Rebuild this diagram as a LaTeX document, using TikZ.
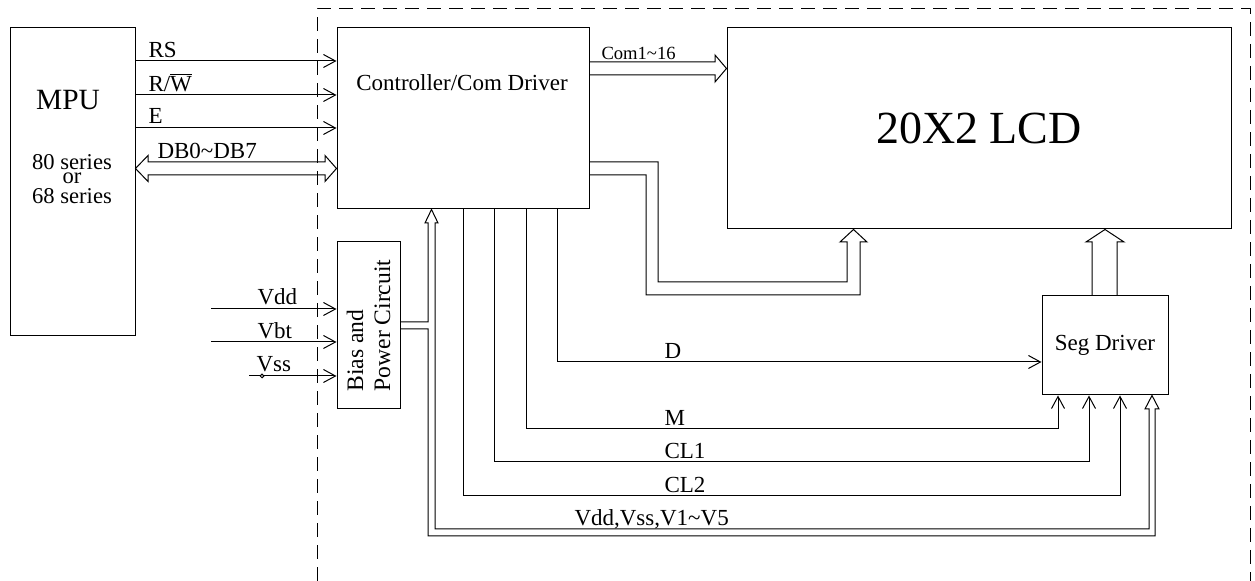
\documentclass[tikz,border=0pt]{standalone}
\usepackage{fontspec}
\setmainfont{Liberation Serif}
\usetikzlibrary{arrows.meta, positioning, calc}

\begin{document}
\begin{tikzpicture}[
    x=0.5pt, y=-0.5pt, line width=0.5pt,
    block/.style={draw, inner sep=0pt, line width=0.5pt},
    lbl/.style={inner sep=0pt, anchor=base west, font=\fontsize{11.5}{13}\selectfont},
    sig/.style={-{Straight Barb[length=6pt, width=6.5pt]}},
    bus/.style={line join=miter}
]
\useasboundingbox (0,0) rectangle (1255,581);
% frame of the module
\draw[dash pattern=on 7pt off 4pt] (317,581) -- (317,9) -- (1250,9) -- (1250,581);

% blocks
\node[block, minimum width=62.5pt, minimum height=154pt] (mpu) at (72.5,182) {};
\node[block, minimum width=126pt, minimum height=90.5pt] (ctrl) at (463,118.5) {};
\node[block, minimum width=252pt, minimum height=100.5pt,
      font=\fontsize{23}{27}\selectfont] (lcd) at (979,128.5) {20X2 LCD};
\node[block, minimum width=63pt, minimum height=49.5pt,
      font=\fontsize{11.5}{13}\selectfont] (seg) at (1105,345.5) {Seg Driver};
\node[block, minimum width=31.5pt, minimum height=83.5pt] (bias) at (368.5,325.5) {};
\node[rotate=90, align=left, inner sep=0pt,
      font=\fontsize{11.8}{13.5}\selectfont] (biastxt) at (bias.center) {Bias and\\Power Circuit};

% block texts
\node[anchor=base, inner sep=0pt, font=\fontsize{14.7}{16}\selectfont] (mputxt) at (68,110) {MPU};
\node[anchor=base, inner sep=0pt, font=\fontsize{11.3}{12}\selectfont] (ser1) at (72,170) {80 series};
\node[anchor=base, inner sep=0pt, font=\fontsize{11.3}{12}\selectfont] (ser2) at (72,184) {or};
\node[anchor=base, inner sep=0pt, font=\fontsize{11.3}{12}\selectfont] (ser3) at (72,204) {68 series};
\node[anchor=base, inner sep=0pt, font=\fontsize{11.5}{13}\selectfont] (ctrltxt) at (462,91) {Controller/Com Driver};

% MPU interface
\draw[sig] (mpu.east |- 0,61)  -- (ctrl.west |- 0,61);
\draw[sig] (mpu.east |- 0,95)  -- (ctrl.west |- 0,95);
\draw[sig] (mpu.east |- 0,128) -- (ctrl.west |- 0,128);
\draw[bus] (mpu.east |- 0,168.5) -- (148,155.5) -- (148,162) -- (325,162) -- (325,155.5)
  -- (ctrl.west |- 0,168.5) -- (325,181.5) -- (325,175) -- (148,175) -- (148,181.5) -- cycle;
\node[lbl] (lrs) at (148,58) {RS};
\node[lbl] (lrw) at (148,92) {R/$\overline{\hbox{W}}$};
\node[lbl] (le) at (148,124) {E};
\node[lbl] (ldb) at (157,159) {DB0\textasciitilde DB7};

% common lines
\draw[bus] (ctrl.east |- 0,62) -- (715,62) -- (715,55) -- (lcd.west |- 0,68.5)
  -- (715,82) -- (715,75) -- (ctrl.east |- 0,75);
\node[lbl, font=\fontsize{9.3}{11}\selectfont] (lcom) at (601,60) {Com1\textasciitilde 16};
\draw[bus] (ctrl.east |- 0,162) -- (658,162) -- (658,282) -- (847,282) -- (847,242) -- (840,242)
  -- (lcd.south -| 853.5,0) -- (867,242) -- (860,242) -- (860,295) -- (646,295) -- (646,175)
  -- (ctrl.east |- 0,175);

% segment lines
\draw[bus] (seg.north -| 1092,0) -- (1092,242) -- (1086,242) -- (lcd.south -| 1105,0)
  -- (1124,242) -- (1117,242) -- (seg.north -| 1117,0);

% power supply
\coordinate (vddin) at (211,309);
\coordinate (vbtin) at (211,342);
\coordinate (vssin) at (249,376);
\draw[sig] (vddin) -- (bias.west |- vddin);
\draw[sig] (vbtin) -- (bias.west |- vbtin);
\draw[sig] (vssin) -- (bias.west |- vssin);
\draw[fill=white] (262,376) circle (0.9pt);
\node[lbl] (lvdd) at (257,305) {Vdd};
\node[lbl] (lvbt) at (257,339) {Vbt};
\node[lbl] (lvss) at (256,372) {Vss};
\draw[bus] (bias.east |- 0,322) -- (428,322) -- (428,223) -- (425,223) -- (ctrl.south -| 431.5,0)
  -- (438,223) -- (435,223) -- (435,529) -- (1149,529) -- (1149,409) -- (1145,409)
  -- (seg.south -| 1152,0) -- (1159,409) -- (1155,409) -- (1155,536) -- (428,536)
  -- (428,329) -- (bias.east |- 0,329);

% data and clock lines
\draw[sig] (ctrl.south -| 557,0) |- (seg.west |- 0,362);
\draw[sig] (ctrl.south -| 526,0) |- (1058,429) -- (seg.south -| 1058,0);
\draw[sig] (ctrl.south -| 494,0) |- (1089,462) -- (seg.south -| 1089,0);
\draw[sig] (ctrl.south -| 463,0) |- (1120,496) -- (seg.south -| 1120,0);
\node[lbl] (ld) at (664,359) {D};
\node[lbl] (lm) at (664,426) {M};
\node[lbl] (lcl1) at (664,459) {CL1};
\node[lbl] (lcl2) at (664,493) {CL2};
\node[lbl] (lpow) at (574,526) {Vdd,Vss,V1\textasciitilde V5};
\end{tikzpicture}
\end{document}
